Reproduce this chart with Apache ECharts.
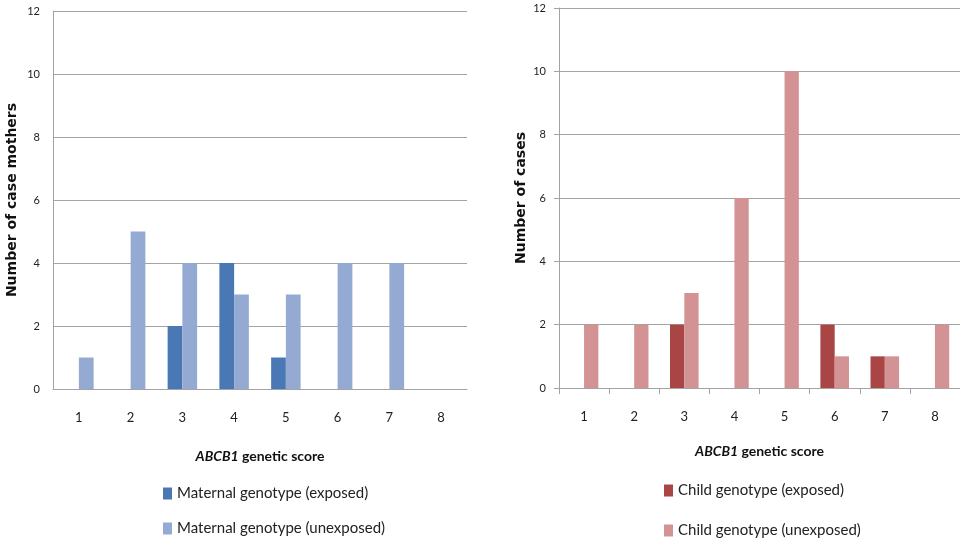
<!DOCTYPE html>
<html>
<head>
<meta charset="utf-8">
<script src="https://cdn.jsdelivr.net/npm/echarts@6/dist/echarts.min.js"></script>
<style>
html,body{margin:0;padding:0;background:#fff;}
#chart{width:960px;height:547px;}
</style>
</head>
<body>
<div id="chart"></div>
<script>
const categories = ['1','2','3','4','5','6','7','8'];
const yTicks = [0, 2, 4, 6, 8, 10, 12];
const maternalExposed   = [null, null, 2, 4, 1, null, null, null];
const maternalUnexposed = [1, 5, 4, 3, 3, 4, 4, null];
const childExposed      = [null, null, 2, null, null, 2, 1, null];
const childUnexposed    = [2, 2, 3, 6, 10, 1, 1, 2];
const seriesNames = {
  me: 'Maternal genotype (exposed)',
  mu: 'Maternal genotype (unexposed)',
  ce: 'Child genotype (exposed)',
  cu: 'Child genotype (unexposed)'
};

const FONT = 'Lato';
const gridColor = '#a3a3a3';

function xAxisCfg(gridIndex, showTicks, nameGap) {
  return {
    type: 'category', gridIndex, data: categories,
    axisLine: { show: true, lineStyle: { color: gridColor, width: 1 } },
    axisTick: { show: showTicks, length: 6, lineStyle: { color: gridColor } },
    axisLabel: { margin: 22, fontFamily: FONT, fontSize: 13, color: '#222' },
    name: '{i|ABCB1} {b|genetic score}',
    nameLocation: 'middle', nameGap,
    nameTextStyle: {
      rich: {
        i: { fontFamily: FONT, fontSize: 14, fontWeight: 'bold', fontStyle: 'italic', color: '#111' },
        b: { fontFamily: FONT, fontSize: 14, fontWeight: 'bold', color: '#111' }
      }
    }
  };
}
function yAxisCfg(gridIndex, showTicks, name, nameGap) {
  return {
    type: 'value', gridIndex, min: yTicks[0], max: yTicks[yTicks.length - 1], interval: 2,
    axisLine: { show: true, lineStyle: { color: gridColor, width: 1 } },
    axisTick: { show: showTicks, length: 5, lineStyle: { color: gridColor } },
    splitLine: { show: true, lineStyle: { color: gridColor, width: 1 } },
    axisLabel: { margin: 13, fontFamily: FONT, fontSize: 11, color: '#222' },
    name, nameLocation: 'middle', nameGap, nameRotate: 90,
    nameTextStyle: { fontFamily: 'DejaVu Sans', fontWeight: 'bold', fontSize: 14, color: '#111' }
  };
}
function legendCfg(names, left, top, gap) {
  return {
    data: names, orient: 'vertical', left, top, padding: 0, height: 80,
    itemWidth: 9, itemHeight: 12, itemGap: gap, itemTextGap: 3,
    icon: 'rect', textStyle: { fontFamily: FONT, fontSize: 15, color: '#222', lineHeight: 15 }
  };
}

const chart = echarts.init(document.getElementById('chart'));
chart.setOption({
  animation: false,
  backgroundColor: '#fff',
  grid: [
    { left: 53, right: 493, top: 11, bottom: 158 },
    { left: 559, right: 0, top: 8, bottom: 159 }
  ],
  xAxis: [xAxisCfg(0, false, 60), xAxisCfg(1, true, 56)],
  yAxis: [
    yAxisCfg(0, false, 'Number of case mothers', 34),
    yAxisCfg(1, true, 'Number of cases', 31)
  ],
  legend: [
    legendCfg([seriesNames.me, seriesNames.mu], 163, 486, 20),
    legendCfg([seriesNames.ce, seriesNames.cu], 664, 483, 25)
  ],
  series: [
    { name: seriesNames.me, type: 'bar', xAxisIndex: 0, yAxisIndex: 0, data: maternalExposed,
      itemStyle: { color: '#4a78b4' }, barGap: '0%', barCategoryGap: '43%' },
    { name: seriesNames.mu, type: 'bar', xAxisIndex: 0, yAxisIndex: 0, data: maternalUnexposed,
      itemStyle: { color: '#94aad3' }, barGap: '0%', barCategoryGap: '43%' },
    { name: seriesNames.ce, type: 'bar', xAxisIndex: 1, yAxisIndex: 1, data: childExposed,
      itemStyle: { color: '#a94545' }, barGap: '0%', barCategoryGap: '43%' },
    { name: seriesNames.cu, type: 'bar', xAxisIndex: 1, yAxisIndex: 1, data: childUnexposed,
      itemStyle: { color: '#d39293' }, barGap: '0%', barCategoryGap: '43%' }
  ]
});
</script>
</body>
</html>
